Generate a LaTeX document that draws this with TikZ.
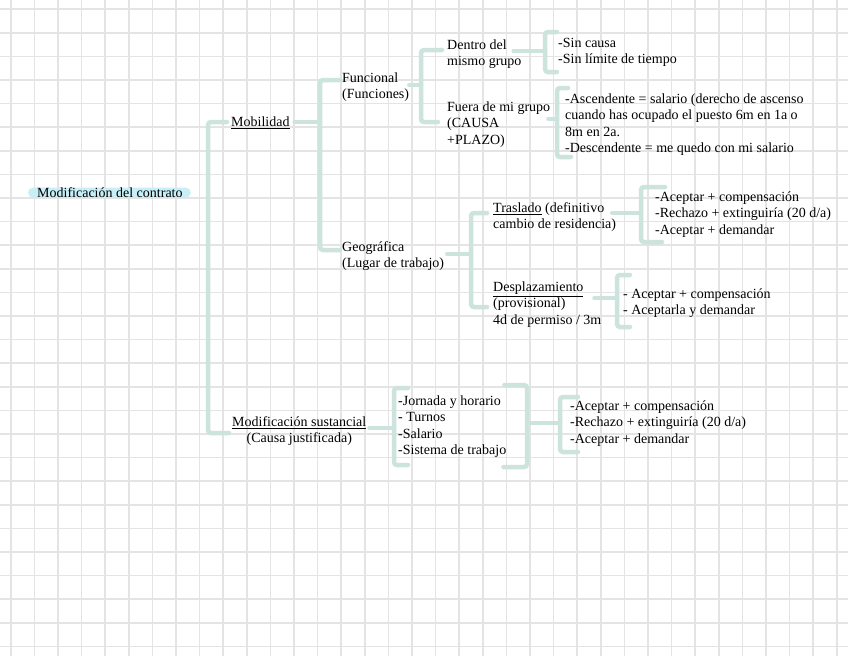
\documentclass[tikz,border=0pt]{standalone}
\usepackage{fontspec}
\setmainfont{Liberation Serif}
\usetikzlibrary{backgrounds,calc}
\definecolor{gridc}{RGB}{228,228,228}
\definecolor{connc}{RGB}{204,227,222}
\definecolor{rootc}{RGB}{200,238,246}
\newcommand{\txtl}[1]{\begin{tabular}[t]{@{}l@{}}#1\end{tabular}}
\newcommand{\txtc}[1]{\begin{tabular}[t]{@{}c@{}}#1\end{tabular}}
\begin{document}
\begin{tikzpicture}[x=1pt,y=-1pt,
  lbl/.style={anchor=base west, inner sep=0pt, font=\fontsize{14}{16.4}\selectfont, text=black},
  conn/.style={draw=connc, line width=4.5pt, line cap=round, rounded corners=3pt},
  gridline/.style={draw=gridc, line width=1.6pt}]
\useasboundingbox (0,0) rectangle (848,656);
\begin{scope}[on background layer]
  \fill[white] (0,0) rectangle (848,656);
  \foreach \i in {0,...,35} \draw[gridline] ({10.7+23.6*\i},0) -- ({10.7+23.6*\i},656);
  \foreach \j in {0,...,27} \draw[gridline] (0,{9.1+23.6*\j}) -- (848,{9.1+23.6*\j});
\end{scope}

% nodes
\node[lbl] (root) at (37,197.5) {Modificación del contrato};
\node[lbl] (mob) at (231,126.5) {\underline{Mobilidad}};
\node[lbl] (sust) at (232,426.5) {\txtc{\underline{Modificación sustancial}\\(Causa justificada)}};
\node[lbl] (fun) at (342,82.5) {\txtl{Funcional\\(Funciones)}};
\node[lbl] (geo) at (342,251.5) {\txtl{Geográfica\\(Lugar de trabajo)}};
\node[lbl] (dentro) at (447,49.5) {\txtl{Dentro del\\mismo grupo}};
\node[lbl] (fuera) at (447,111.5) {\txtl{Fuera de mi grupo\\(CAUSA\\+PLAZO)}};
\node[lbl] (sin) at (558,47.5) {\txtl{-Sin causa\\-Sin límite de tiempo}};
\node[lbl] (asc) at (565,103.5) {\txtl{-Ascendente = salario (derecho de ascenso\\cuando has ocupado el puesto 6m en 1a o\\8m en 2a.\\-Descendente = me quedo con mi salario}};
\node[lbl] (tras) at (493,212.5) {\txtl{\underline{Traslado} (definitivo\\cambio de residencia)}};
\node[lbl] (desp) at (493,291.5) {\txtl{\underline{Desplazamiento}\\(provisional)\\4d de permiso / 3m}};
\node[lbl] (trasop) at (655,201.5) {\txtl{-Aceptar + compensación\\-Rechazo + extinguiría (20 d/a)\\-Aceptar + demandar}};
\node[lbl] (despop) at (623,298.5) {\txtl{- Aceptar + compensación\\- Aceptarla y demandar}};
\node[lbl] (items) at (398,405.5) {\txtl{-Jornada y horario\\- Turnos\\-Salario\\-Sistema de trabajo}};
\node[lbl] (sustop) at (570,410.5) {\txtl{-Aceptar + compensación\\-Rechazo + extinguiría (20 d/a)\\-Aceptar + demandar}};

\begin{scope}[on background layer]
  \fill[rootc, rounded corners=5pt] ($(root.west)+(-9,-5)$) rectangle ($(root.east)+(8,5)$);
\end{scope}

% connectors
% root -> Mobilidad / Modificacion sustancial
\draw[conn] ($(mob.west|-0,122)+(-4,0)$) -| (208,433) -- ($(sust.west|-0,433)+(-3,0)$);
% Mobilidad -> Funcional / Geografica
\draw[conn] ($(mob.east|-0,122)+(5,0)$) -- (320,122);
\draw[conn] ($(fun.west|-0,80)+(-2,0)$) -| (320,250) -- ($(geo.west|-0,250)+(-2,0)$);
% Funcional -> Dentro / Fuera
\draw[conn] ($(fun.east|-0,85)+(0,0)$) -- (421,85);
\draw[conn] ($(dentro.west|-0,50)+(-5,0)$) -| (421,122) -- ($(fuera.west|-0,122)+(-9,0)$);
% Dentro -> Sin causa
\draw[conn] ($(dentro.east|-0,51)+(-8,0)$) -- (545,51);
\draw[conn] ($(sin.west|-0,32)+(-1,0)$) -| (545,72) -- ($(sin.west|-0,72)+(-1,0)$);
% Fuera -> Ascendente
\draw[conn] ($(fuera.east|-0,119)+(-2,0)$) -- (557,119);
\draw[conn] ($(asc.west|-0,88)+(3,0)$) -| (557,157) -- ($(asc.west|-0,157)+(6,0)$);
% Geografica -> Traslado / Desplazamiento
\draw[conn] ($(geo.east|-0,254)+(3,0)$) -- (471,254);
\draw[conn] ($(tras.west|-0,213)+(-6,0)$) -| (471,307) -- ($(desp.west|-0,307)+(-6,0)$);
% Traslado -> options
\draw[conn] ($(tras.east|-0,213)+(-4,0)$) -- (641,213);
\draw[conn] ($(trasop.west|-0,187)+(10,0)$) -| (641,242) -- ($(trasop.west|-0,242)+(7,0)$);
% Desplazamiento -> options
\draw[conn] ($(desp.east|-0,298)+(-7,0)$) -- (617,298);
\draw[conn] ($(despop.west|-0,275)+(7,0)$) -| (617,327) -- ($(despop.west|-0,327)+(7,0)$);
% Modificacion sustancial -> items
\draw[conn] ($(sust.east|-0,428)+(3,0)$) -- (394,428);
\draw[conn] ($(items.west|-0,388)+(10,0)$) -| (394,465) -- ($(items.west|-0,465)+(10,0)$);
% items closing bracket -> options
\draw[conn] ($(items.east|-0,385)+(-2,0)$) -| (527,467) -- ($(items.east|-0,467)+(-3,0)$);
\draw[conn] (527,423) -- (560,423);
\draw[conn] ($(sustop.west|-0,397)+(8,0)$) -| (560,452) -- ($(sustop.west|-0,452)+(8,0)$);
\end{tikzpicture}
\end{document}
